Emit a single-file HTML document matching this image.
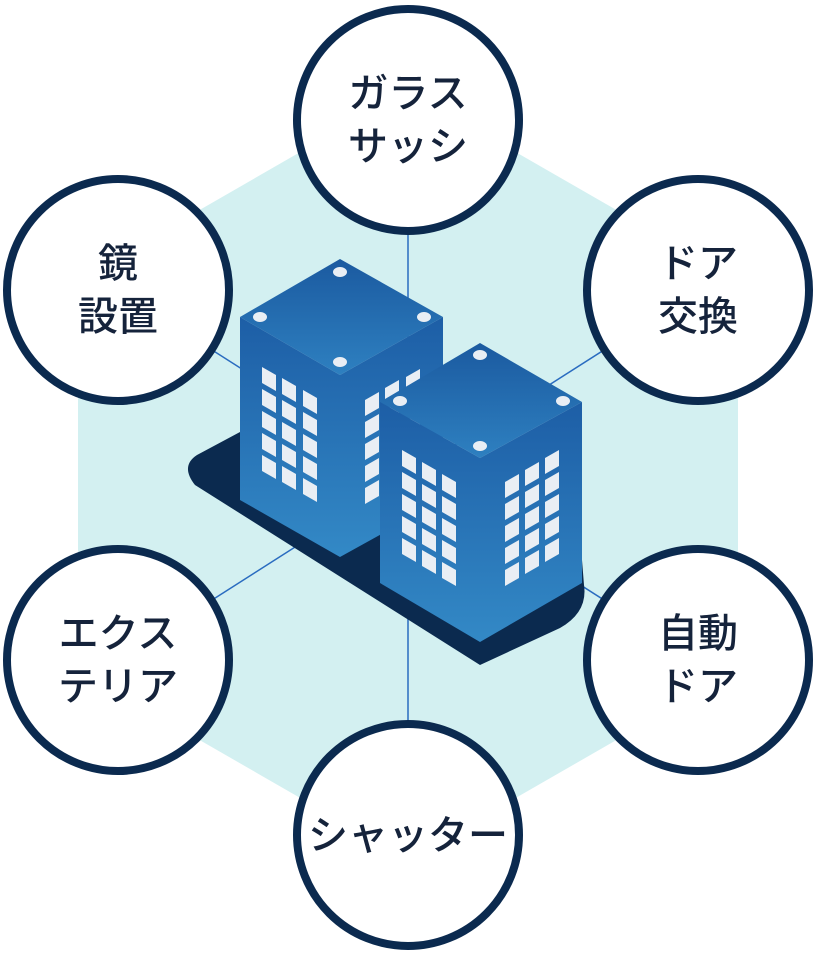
<!DOCTYPE html>
<html><head><meta charset="utf-8"><style>
html,body{margin:0;padding:0;background:#fff;}
svg{display:block}
text{font-family:"Liberation Sans","Noto Sans CJK JP",sans-serif;font-size:40px;font-weight:500;fill:#15233b;text-anchor:middle}
</style></head><body>
<svg width="816" height="954" viewBox="0 0 816 954" xmlns="http://www.w3.org/2000/svg">
<defs>
<linearGradient id="gt" x1="0" y1="0" x2="0" y2="1"><stop offset="0" stop-color="#1b5aa0"/><stop offset="1" stop-color="#2e80c0"/></linearGradient>
<linearGradient id="gs" x1="0" y1="0" x2="0" y2="1"><stop offset="0" stop-color="#1d5ea6"/><stop offset="1" stop-color="#3389c6"/></linearGradient>
</defs>
<polygon points="408,90 738,280 738,670 408,860 78,670 78,280" fill="#d3f0f1"/>
<g stroke="#2a6cc0" stroke-width="1.5">
<line x1="408" y1="120" x2="408" y2="835"/>
<line x1="118" y1="290" x2="698" y2="660"/>
<line x1="698" y1="290" x2="118" y2="660"/>
</g>
<!-- shadow -->
<path d="M240,432 L197,455 Q180,466 195,485 L480,665 L560,628 Q588,612 584,585 L582,560 L240,432 Z" fill="#0b2a4f"/>
<!-- building 1 -->
<polygon points="340,259 443,317 340,375 240,317" fill="url(#gt)"/>
<polygon points="240,317 340,375 340,557 240,500" fill="url(#gs)"/>
<polygon points="340,375 443,317 443,500 340,557" fill="url(#gs)"/>
<g fill="#e9eef4">
<g id="lw1">
<polygon points="262,367 276,375 276,391 262,383"/>
<polygon points="262,389 276,397 276,413 262,405"/>
<polygon points="262,411 276,419 276,435 262,427"/>
<polygon points="262,433 276,441 276,457 262,449"/>
<polygon points="262,455 276,463 276,479 262,471"/>
</g>
<use href="#lw1" transform="translate(20,11)"/>
<use href="#lw1" transform="translate(41,23)"/>
<g id="rw1">
<polygon points="365,400 379,392 379,408 365,416"/>
<polygon points="365,422 379,414 379,430 365,438"/>
<polygon points="365,444 379,436 379,452 365,460"/>
<polygon points="365,466 379,458 379,474 365,482"/>
<polygon points="365,488 379,480 379,496 365,504"/>
</g>
<use href="#rw1" transform="translate(20,-12)"/>
<use href="#rw1" transform="translate(41,-23)"/>
</g>
<g fill="#e9eef4">
<ellipse cx="340" cy="272" rx="7" ry="5"/><ellipse cx="260" cy="317" rx="7" ry="5"/><ellipse cx="424" cy="317" rx="7" ry="5"/><ellipse cx="340" cy="362" rx="7" ry="5"/>
</g>
<!-- building 2 -->
<polygon points="480,343 582,402 480,458 380,402" fill="url(#gt)"/>
<polygon points="380,402 480,458 480,642 380,583" fill="url(#gs)"/>
<polygon points="480,458 582,402 582,583 480,642" fill="url(#gs)"/>
<g fill="#e9eef4">
<use href="#lw1" transform="translate(140,83)"/>
<use href="#lw1" transform="translate(160,95)"/>
<use href="#lw1" transform="translate(180,107)"/>
<use href="#rw1" transform="translate(140,82)"/>
<use href="#rw1" transform="translate(160,70)"/>
<use href="#rw1" transform="translate(180,58)"/>
<ellipse cx="480" cy="355" rx="7" ry="5"/><ellipse cx="400" cy="401" rx="7" ry="5"/><ellipse cx="563" cy="401" rx="7" ry="5"/><ellipse cx="480" cy="446" rx="7" ry="5"/>
</g>
<!-- circles -->
<g fill="#fff" stroke="#0b2a4f" stroke-width="8">
<circle cx="408" cy="120" r="111"/>
<circle cx="118" cy="290" r="111"/>
<circle cx="698" cy="290" r="111"/>
<circle cx="118" cy="660" r="111"/>
<circle cx="698" cy="660" r="111"/>
<circle cx="408" cy="835" r="111"/>
</g>
<text x="408" y="107">ガラス</text><text x="408" y="160">サッシ</text>
<text x="118" y="277">鏡</text><text x="118" y="330">設置</text>
<text x="698" y="277">ドア</text><text x="698" y="330">交換</text>
<text x="118" y="647">エクス</text><text x="118" y="700">テリア</text>
<text x="698" y="647">自動</text><text x="698" y="700">ドア</text>
<text x="408" y="849">シャッター</text>
</svg>
</body></html>
